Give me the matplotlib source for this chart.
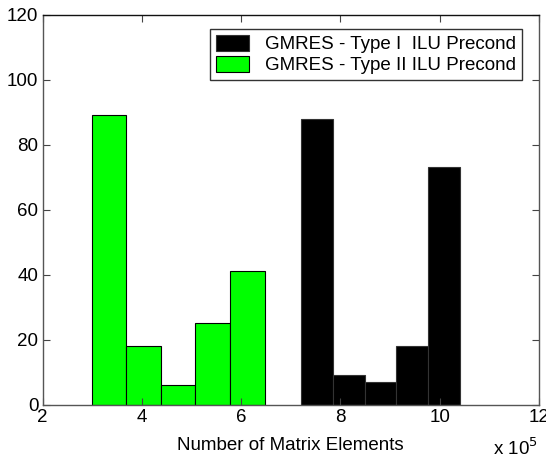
import numpy as np
import matplotlib
matplotlib.use("Agg")
import matplotlib.pyplot as plt

plt.rcParams['font.family'] = ['Liberation Sans', 'DejaVu Sans']

# bin edges in units of 1e5 matrix elements, counts per bin
type2_edges = [3.0, 3.69, 4.38, 5.08, 5.78, 6.48]
type2_counts = [89, 18, 6, 25, 41]
type1_edges = [7.2, 7.86, 8.5, 9.12, 9.76, 10.42]
type1_counts = [88, 9, 7, 18, 73]

xticks = [2, 4, 6, 8, 10, 12]
yticks = [0, 20, 40, 60, 80, 100, 120]

fs = 13.5
fig = plt.figure(figsize=(5.46, 4.54), dpi=100)
ax = fig.add_axes([0.078, 0.109, 0.909, 0.859])

e1 = np.array(type1_edges)
e2 = np.array(type2_edges)
ax.bar(e1[:-1], type1_counts, width=np.diff(e1), align='edge',
       color='black', edgecolor='#333333', linewidth=0.8,
       label='GMRES - Type I  ILU Precond')
ax.bar(e2[:-1], type2_counts, width=np.diff(e2), align='edge',
       color='#00ff00', edgecolor='black', linewidth=0.8,
       label='GMRES - Type II ILU Precond')

ax.set_xlim(2, 12)
ax.set_ylim(0, 120)
ax.set_xticks(xticks)
ax.set_yticks(yticks)
ax.tick_params(direction='in', top=True, right=True, length=5,
               labelsize=fs, color='#444444', pad=3)
for s in ax.spines.values():
    s.set_color('#555555')
    s.set_linewidth(1.0)
ax.spines['top'].set_color('#111111')

ax.set_xlabel('Number of Matrix Elements', fontsize=fs, labelpad=8)
fig.text(0.985, -0.012, r'x 10$^5$', ha='right', va='bottom', fontsize=fs)

leg = ax.legend(loc='upper right', bbox_to_anchor=(0.966, 0.962),
                fontsize=fs, fancybox=False, framealpha=1,
                handlelength=1.75, handleheight=0.9, borderpad=0.3,
                labelspacing=0.15, handletextpad=0.9, borderaxespad=0)
leg.get_frame().set_edgecolor('#333333')
leg.get_frame().set_linewidth(1.0)

fig.savefig('out.png', dpi=100)
